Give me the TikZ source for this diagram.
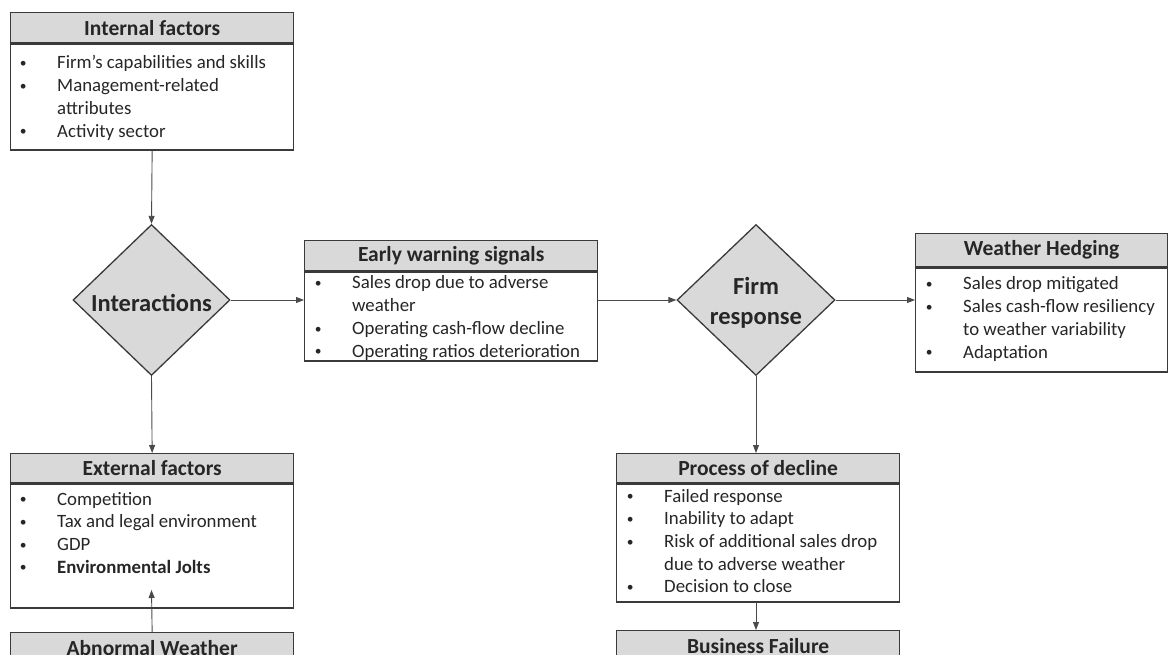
\documentclass[tikz,border=0pt]{standalone}
\usepackage{fontspec}
\usepackage{graphicx}
\setmainfont{Carlito}
\usetikzlibrary{shapes.geometric,arrows.meta}
\definecolor{boxfill}{HTML}{D9D9D9}
\definecolor{edge}{HTML}{3A3A3A}
\definecolor{txt}{HTML}{262626}
\definecolor{conncol}{HTML}{4A4A4A}
\newcommand{\bul}{\makebox[0pt]{\raisebox{1.2pt}{\scalebox{0.72}{\textbullet}}}}
\begin{document}
\begin{tikzpicture}[x=1pt,y=-1pt,
 hdr/.style={draw=edge, line width=1.3pt, fill=boxfill, anchor=north west, inner sep=0, font=\fontsize{21.5}{25}\selectfont\bfseries, text=txt},
 bodybox/.style={draw=edge, line width=1.3pt, fill=white, anchor=north west, inner sep=0},
 bl/.style={anchor=base west, inner sep=0, font=\fontsize{18.8}{22.7}\selectfont, text=txt},
 dia/.style={diamond, draw=edge, line width=1.3pt, fill=boxfill, inner sep=0},
 dlab/.style={font=\fontsize{24.5}{30}\selectfont\bfseries, text=txt, align=center, yshift=-2.5pt},
 conn/.style={draw=conncol, line width=0.9pt, -{Triangle[length=8pt,width=6pt]}}
]
\clip (0,0) rectangle (1168,655);
\fill[white] (0,0) rectangle (1168,655);

% Internal factors
\node[hdr, minimum width=283, minimum height=30] (intH) at (10,12) {Internal factors};
\node[bodybox, minimum width=283, minimum height=106] (intB) at (intH.south west) {};
\node[bl] (intT) at (23,69) {\begin{tabular}[t]{@{}p{34pt}@{}l@{}}
\bul & Firm’s capabilities and skills\\
\bul & Management-related\\
 & attributes\\
\bul & Activity sector
\end{tabular}};

% Interactions
\node[dia, minimum width=157, minimum height=151, label={[dlab]center:Interactions}] (inter) at (151.5,300) {};

% Early warning signals
\node[hdr, minimum width=293, minimum height=30] (ewH) at (304,240) {Early warning signals};
\node[bodybox, minimum width=293, minimum height=89] (ewB) at (ewH.south west) {};
\node[bl] (ewT) at (318,289) {\begin{tabular}[t]{@{}p{34pt}@{}l@{}}
\bul & Sales drop due to adverse\\
 & weather\\
\bul & Operating cash-flow decline\\
\bul & Operating ratios deterioration
\end{tabular}};

% Firm response
\node[dia, minimum width=158, minimum height=151, label={[dlab]center:Firm\\response}] (fr) at (756,300) {};

% Weather Hedging
\node[hdr, minimum width=252, minimum height=33] (whH) at (915,233) {Weather Hedging};
\node[bodybox, minimum width=252, minimum height=104] (whB) at (whH.south west) {};
\node[bl] (whT) at (929,290) {\begin{tabular}[t]{@{}p{34pt}@{}l@{}}
\bul & Sales drop mitigated\\
\bul & Sales cash-flow resiliency\\
 & to weather variability\\
\bul & Adaptation
\end{tabular}};

% External factors
\node[hdr, minimum width=283, minimum height=29] (exH) at (10,453) {External factors};
\node[bodybox, minimum width=283, minimum height=124] (exB) at (exH.south west) {};
\node[bl] (exT) at (23,505) {\begin{tabular}[t]{@{}p{34pt}@{}l@{}}
\bul & Competition\\
\bul & Tax and legal environment\\
\bul & GDP\\
\bul & \textbf{Environmental Jolts}
\end{tabular}};

% Abnormal Weather
\node[hdr, minimum width=283, minimum height=30] (abH) at (10,632) {Abnormal Weather};
\coordinate (jolt) at (151.5,590);

% Process of decline
\node[hdr, minimum width=283, minimum height=29] (pdH) at (616,453) {Process of decline};
\node[bodybox, minimum width=283, minimum height=118] (pdB) at (pdH.south west) {};
\node[bl] (pdT) at (630,502) {\begin{tabular}[t]{@{}p{34pt}@{}l@{}}
\bul & Failed response\\
\bul & Inability to adapt\\
\bul & Risk of additional sales drop\\
 & due to adverse weather\\
\bul & Decision to close
\end{tabular}};

% Business Failure
\node[hdr, minimum width=283, minimum height=30] (bfH) at (616,630) {Business Failure};

% Connectors
\draw[conn] (intB.south) -- (inter.north);
\draw[conn] (inter.east) -- (inter.east -| ewB.west);
\draw[conn] (fr.west -| ewB.east) -- (fr.west);
\draw[conn] (fr.east) -- (fr.east -| whB.west);
\draw[conn] (inter.south) -- (exH.north);
\draw[conn] (abH.north) -- (jolt);
\draw[conn] (fr.south) -- (fr.south |- pdH.north);
\draw[conn] (pdB.south -| fr.south) -- (fr.south |- bfH.north);
\end{tikzpicture}
\end{document}
